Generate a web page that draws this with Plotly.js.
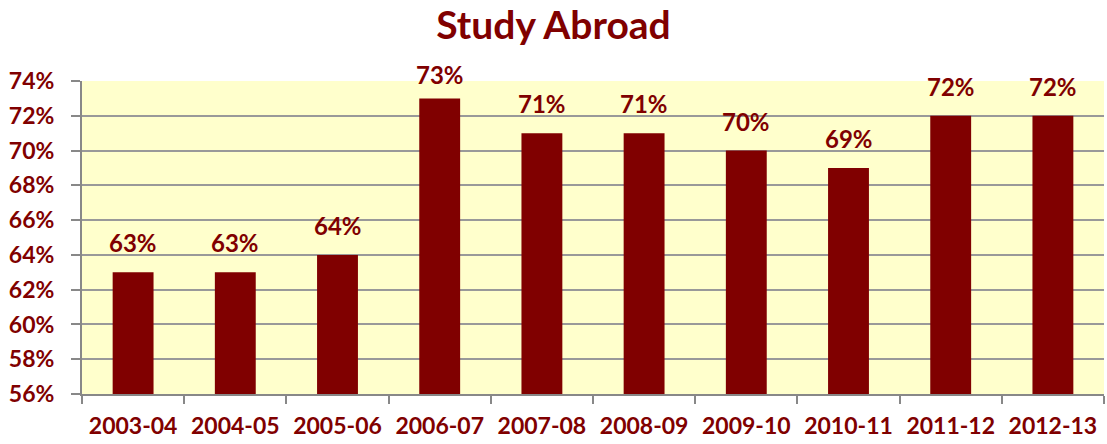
<!DOCTYPE html>
<html>
<head>
<meta charset="utf-8">
<script src="https://cdn.plot.ly/plotly-3.0.1.min.js"></script>
<style>html,body{margin:0;padding:0;background:#fff;}#chart{width:1107px;height:444px;}</style>
</head>
<body>
<div id="chart"></div>
<script>
const years = ["2003-04","2004-05","2005-06","2006-07","2007-08","2008-09","2009-10","2010-11","2011-12","2012-13"];
const pctValues = [63, 63, 64, 73, 71, 71, 70, 69, 72, 72];
const yTickVals = [56, 58, 60, 62, 64, 66, 68, 70, 72, 74];

const dark = "#800000";
const fontFam = "Lato, 'Open Sans', sans-serif";

const trace = {
  type: "bar",
  x: years,
  y: pctValues,
  marker: {color: dark},
  hoverinfo: "none"
};

// labels sit above the bars; the tallest one is pulled down to stay inside the chart area
const labelAnns = years.map((yr, i) => ({
  x: yr, y: pctValues[i], xref: "x", yref: "y",
  text: "<b>" + pctValues[i] + "%</b>",
  showarrow: false, yanchor: "bottom", xanchor: "center",
  yshift: pctValues[i] >= 73 ? 7 : 13,
  font: {family: fontFam, size: 24, color: dark}
}));

const layout = {
  width: 1107, height: 444,
  margin: {l: 82, r: 3, t: 81, b: 50},
  paper_bgcolor: "#ffffff",
  plot_bgcolor: "#FFFFCC",
  bargap: 0.6,
  showlegend: false,
  annotations: labelAnns,
  title: {text: "<b>Study Abroad</b>", x: 0.5, xanchor: "center", y: 0.942, yanchor: "middle",
          font: {family: fontFam, size: 39, color: dark}},
  xaxis: {
    type: "category",
    tickson: "boundaries",
    ticks: "outside", ticklen: 8, tickcolor: "#888", tickwidth: 2,
    showline: true, linecolor: "#888", linewidth: 2,
    showgrid: false,
    tickfont: {family: fontFam, size: 23, color: dark, weight: "bold"},
    ticklabelstandoff: 10
  },
  yaxis: {
    range: [56, 74],
    tickvals: yTickVals,
    ticktext: yTickVals.map(v => v + "%"),
    ticks: "outside", ticklen: 9, tickcolor: "#888", tickwidth: 2,
    showline: true, linecolor: "#888", linewidth: 2,
    showgrid: true, gridcolor: "#999", gridwidth: 2,
    zeroline: false,
    ticklabelstandoff: 12,
    tickfont: {family: fontFam, size: 23, color: dark, weight: "bold"}
  }
};

Plotly.newPlot("chart", [trace], layout, {displayModeBar: false, staticPlot: true});
</script>
</body>
</html>
